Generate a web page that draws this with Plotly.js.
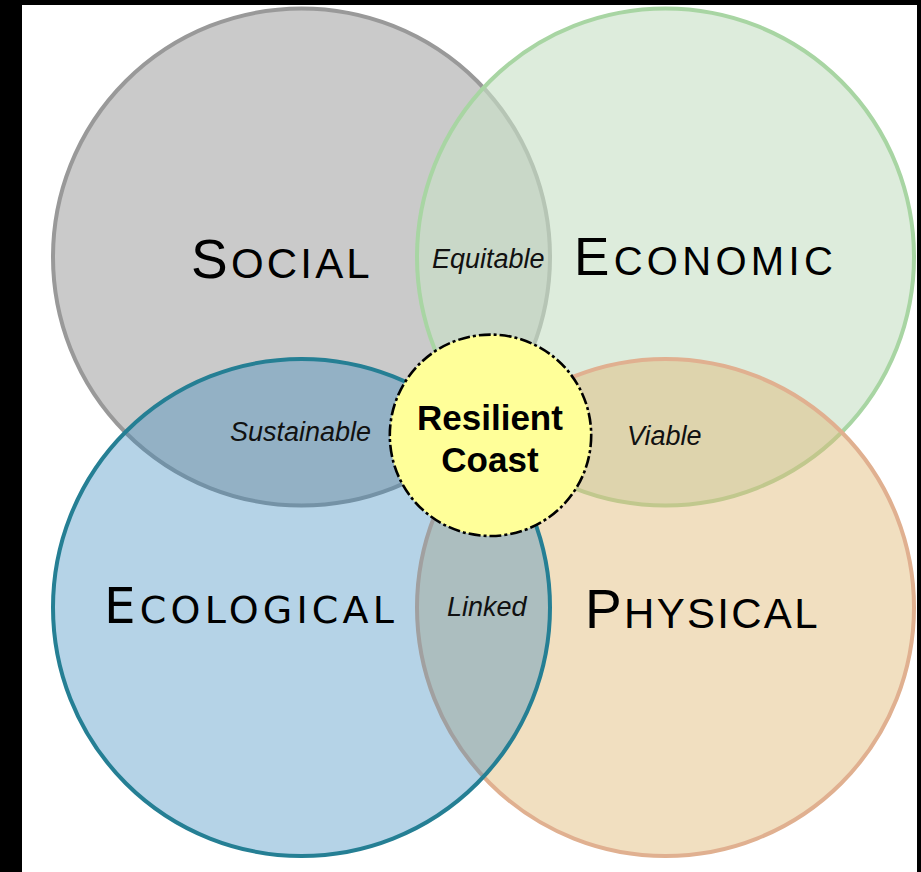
<!DOCTYPE html>
<html><head><meta charset="utf-8">
<script src="https://cdn.plot.ly/plotly-3.0.1.min.js"></script>
<style>html,body{margin:0;padding:0;background:#000;overflow:hidden}</style>
</head><body><div id="chart" style="width:921px;height:872px"></div>
<script>
// ---------- data ----------
const setLabels = ['SOCIAL', 'ECONOMIC', 'ECOLOGICAL', 'PHYSICAL'];
const setCols = [0, 1, 0, 1];
const setRows = [0, 0, 1, 1];
const pairLabels = ['Equitable', 'Sustainable', 'Viable', 'Linked'];
const pairSets = [[0, 1], [0, 2], [1, 3], [2, 3]];
const centerLabel = ['Resilient', 'Coast'];

// ---------- layout / style ----------
const colX = [301.5, 665.5], rowY = [257, 607.5], R = 248.5;
const fills = ['rgb(202,202,202)', 'rgba(200,225,198,0.62)', 'rgba(49,133,188,0.36)', 'rgba(224,184,115,0.45)'];
const strokes = ['#999999', '#a8d5a3', '#257f94', '#e0b090'];
const drawOrder = [0, 1, 3, 2];
const setStyle = [
  {big: 55, small: 42, family: 'Liberation Sans, Arial, sans-serif', ls: 3.2, dx: -21, dy: 1.5},
  {big: 53, small: 40, family: 'Liberation Sans, Arial, sans-serif', ls: 4.3, dx: 37.5, dy: -1},
  {big: 50, small: 38, family: 'DejaVu Sans, Verdana, sans-serif', ls: 4.2, dx: -52.5, dy: -1.5},
  {big: 55, small: 42, family: 'Liberation Sans, Arial, sans-serif', ls: 2.3, dx: 35.5, dy: 1}
];
const pairOffset = [[4.5, 2], [-0.7, -0.4], [-1, 4], [4, -0.2]];
const center = {x: 490.5, y: 435.3, r: 100.7};

const shapes = [];
drawOrder.forEach(i => {
  const cx = colX[setCols[i]], cy = rowY[setRows[i]];
  shapes.push({type: 'circle', xref: 'x', yref: 'y', x0: cx - R, x1: cx + R, y0: cy - R, y1: cy + R,
    fillcolor: fills[i], line: {color: strokes[i], width: 4}, layer: 'above'});
});
shapes.push({type: 'circle', xref: 'x', yref: 'y',
  x0: center.x - center.r, x1: center.x + center.r, y0: center.y - center.r, y1: center.y + center.r,
  fillcolor: '#ffff99', line: {color: '#000', width: 2.6, dash: '12px,3px,3px,3px'}, layer: 'above'});

const annotations = [];
setLabels.forEach((t, i) => {
  const s = setStyle[i];
  const cx = colX[setCols[i]], cy = rowY[setRows[i]];
  annotations.push({
    x: cx + s.dx + s.ls / 2, y: cy + s.dy, xref: 'x', yref: 'y', showarrow: false,
    text: `<span style="letter-spacing:${s.ls}px">${t[0]}</span><span style="font-size:${s.small}px;letter-spacing:${s.ls}px">${t.slice(1)}</span>`,
    font: {family: s.family, size: s.big, color: '#000'}
  });
});
pairLabels.forEach((t, k) => {
  const [a, b] = pairSets[k];
  const mx = (colX[setCols[a]] + colX[setCols[b]]) / 2;
  const my = (rowY[setRows[a]] + rowY[setRows[b]]) / 2;
  annotations.push({
    x: mx + pairOffset[k][0], y: my + pairOffset[k][1], xref: 'x', yref: 'y', showarrow: false,
    text: `<i>${t}</i>`,
    font: {family: 'Liberation Sans, Arial, sans-serif', size: 27, color: '#111'}
  });
});
annotations.push({
  x: center.x - 1, y: center.y + 3.4, xref: 'x', yref: 'y', showarrow: false,
  text: centerLabel.map(w => `<span style="font-size:35px;font-weight:bold">${w}</span>`).join('<br>'),
  font: {family: 'Liberation Sans, Arial, sans-serif', size: 32, color: '#000'}
});

const layout = {
  width: 921, height: 872,
  margin: {l: 22, r: 4, t: 5, b: 0, pad: 0},
  paper_bgcolor: '#000', plot_bgcolor: '#fff',
  xaxis: {range: [22, 917], visible: false, fixedrange: true},
  yaxis: {range: [872, 5], visible: false, fixedrange: true},
  showlegend: false,
  shapes: shapes,
  annotations: annotations
};
Plotly.newPlot('chart', [{x: [], y: [], type: 'scatter'}], layout, {displayModeBar: false, staticPlot: true});
</script></body></html>
